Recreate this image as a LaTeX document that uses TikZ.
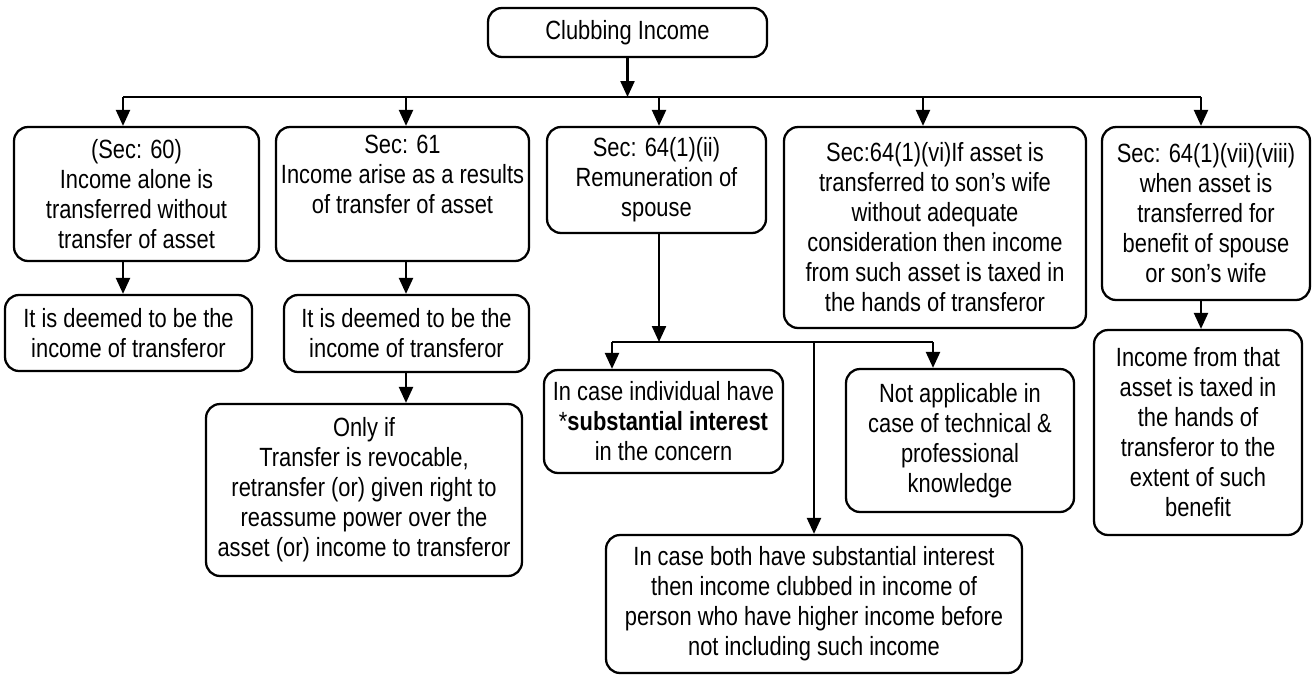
\documentclass[tikz,border=0pt]{standalone}
\usepackage{fontspec}
\setmainfont{Liberation Sans}[FakeStretch=0.83]
\usetikzlibrary{arrows.meta}

\begin{document}
\begin{tikzpicture}[x=0.02cm, y=-0.02cm,
  box/.style={draw, line width=1.3pt, rounded corners=0.28cm, align=center,
    inner sep=0pt, font=\fontsize{15}{17.07}\selectfont},
  arr/.style={line width=1.3pt, -{Triangle[length=0.32cm, width=0.28cm]}},
  ln/.style={line width=1.3pt}]
\useasboundingbox (0,0) rectangle (1312,677);

% head
\node[box, minimum width=5.58cm, minimum height=0.98cm] (club) at (627.5,32.5) {Clubbing Income};

% sections
\node[box, minimum width=4.9cm, minimum height=2.68cm] (s60) at (136.5,194)
  {(Sec: 60)\\Income alone is\\transferred without\\transfer of asset};
\node[box, minimum width=5.06cm, minimum height=2.68cm] (s61) at (402.5,194)
  {Sec: 61\\Income arise as a results\\of transfer of asset\\\strut};
\node[box, minimum width=4.38cm, minimum height=2.12cm] (s64ii) at (656.5,180)
  {Sec: 64(1)(ii)\\Remuneration of\\spouse};
\node[box, minimum width=6.04cm, minimum height=4.02cm] (s64vi) at (935,227.5)
  {Sec:64(1)(vi)If asset is\\transferred to son’s wife\\without adequate\\consideration then income\\from such asset is taxed in\\the hands of transferor};
\node[box, minimum width=4.16cm, minimum height=3.46cm] (s64vii) at (1206,213.5)
  {Sec: 64(1)(vii)(viii)\\when asset is\\transferred for\\benefit of spouse\\or son’s wife};

% results
\node[box, minimum width=4.94cm, minimum height=1.52cm] (deem60) at (128.5,333)
  {It is deemed to be the\\income of transferor};
\node[box, minimum width=4.9cm, minimum height=1.54cm] (deem61) at (406.5,333.5)
  {It is deemed to be the\\income of transferor};
\node[box, minimum width=6.32cm, minimum height=3.44cm] (onlyif) at (364,490)
  {Only if\\Transfer is revocable,\\retransfer (or) given right to\\reassume power over the\\asset (or) income to transferor};
\node[box, minimum width=4.78cm, minimum height=2.06cm] (indiv) at (663.5,421.5)
  {In case individual have\\*\textbf{substantial interest}\\in the concern};
\node[box, minimum width=4.56cm, minimum height=2.86cm] (notapp) at (960,440.5)
  {Not applicable in\\case of technical \&\\professional\\knowledge};
\node[box, minimum width=8.32cm, minimum height=2.76cm] (both) at (814,604)
  {In case both have substantial interest\\then income clubbed in income of\\person who have higher income before\\not including such income};
\node[box, minimum width=4.16cm, minimum height=4.1cm] (benefit) at (1198,432.5)
  {Income from that\\asset is taxed in\\the hands of\\transferor to the\\extent of such\\benefit};

% top bus
\coordinate (b1) at (123,97);
\coordinate (b2) at (406,97);
\coordinate (b3) at (659,97);
\coordinate (b4) at (923,97);
\coordinate (b5) at (1201,97);
\draw[arr] (club.south) -- (club.south |- b1);
\draw[ln] (b1) -- (b5);
\foreach \b/\t in {b1/s60, b2/s61, b3/s64ii, b4/s64vi, b5/s64vii}
  \draw[arr] (\b) -- (\b |- \t.north);

% down the columns
\draw[arr] (b1 |- s60.south) -- (b1 |- deem60.north);
\draw[arr] (b2 |- s61.south) -- (b2 |- deem61.north);
\draw[arr] (b2 |- deem61.south) -- (b2 |- onlyif.north);
\draw[arr] (b5 |- s64vii.south) -- (b5 |- benefit.north);

% spouse branch
\coordinate (c1) at (612,342);
\coordinate (c2) at (814,342);
\coordinate (c3) at (933,342);
\draw[arr] (b3 |- s64ii.south) -- (b3 |- c1);
\draw[ln] (c1) -- (c3);
\draw[arr] (c1) -- (c1 |- indiv.north);
\draw[arr] (c2) -- (c2 |- both.north);
\draw[arr] (c3) -- (c3 |- notapp.north);

\end{tikzpicture}
\end{document}
